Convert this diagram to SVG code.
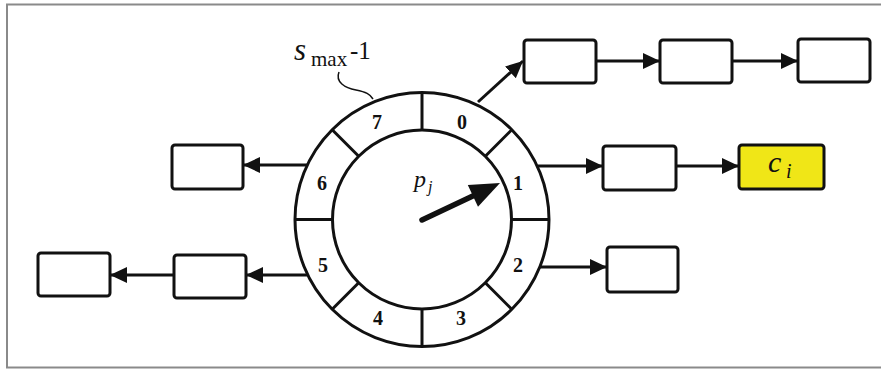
<svg xmlns="http://www.w3.org/2000/svg" width="881" height="371" viewBox="0 0 881 371">
<style>
.box{fill:#fff;stroke:#111;stroke-width:3}
.ring{fill:none;stroke:#111;stroke-width:3}
.conn{stroke:#111;stroke-width:3;fill:none}
.num{font-family:"Liberation Serif",serif;font-weight:bold;font-size:20px;fill:#111;text-anchor:middle}
.it{font-family:"Liberation Serif",serif;font-style:italic;fill:#111}
.rm{font-family:"Liberation Serif",serif;fill:#111}
</style>
<defs>
<marker id="ah" markerUnits="userSpaceOnUse" markerWidth="20" markerHeight="18" refX="17" refY="8" orient="auto">
<path d="M0,0 L17,8 L0,16 Z" fill="#111"/>
</marker>
</defs>
<rect x="7" y="4.5" width="880" height="363" fill="#fff" stroke="#8a8a8a" stroke-width="2"/>

<g id="wheel">
<circle class="ring" cx="422" cy="219.5" r="127"/>
<circle class="ring" cx="422" cy="219.5" r="89.5"/>
<g class="conn">
<line x1="422" y1="92.5" x2="422" y2="130"/>
<line x1="422" y1="309" x2="422" y2="346.5"/>
<line x1="295" y1="219.5" x2="332.5" y2="219.5"/>
<line x1="511.5" y1="219.5" x2="549" y2="219.5"/>
<line x1="485.3" y1="156.2" x2="511.8" y2="129.7"/>
<line x1="358.7" y1="156.2" x2="332.2" y2="129.7"/>
<line x1="485.3" y1="282.8" x2="511.8" y2="309.3"/>
<line x1="358.7" y1="282.8" x2="332.2" y2="309.3"/>
</g>
<text class="num" x="462" y="129">0</text>
<text class="num" x="518" y="190">1</text>
<text class="num" x="518" y="272">2</text>
<text class="num" x="461" y="325">3</text>
<text class="num" x="378" y="325">4</text>
<text class="num" x="323" y="272">5</text>
<text class="num" x="322" y="190">6</text>
<text class="num" x="377" y="129">7</text>
<line x1="422" y1="220" x2="476" y2="194.5" stroke="#111" stroke-width="5.5" stroke-linecap="round"/>
<polygon points="500,183 478,206.7 467.8,185.1" fill="#111"/>
<text class="it" x="414" y="187" font-size="24">p</text>
<text class="it" x="428" y="192" font-size="16">j</text>
</g>

<g id="smax-label">
<text class="it" x="294" y="60" font-size="31">s</text>
<text class="rm" x="311" y="66" font-size="21">max</text>
<text class="rm" x="350" y="59" font-size="25">-1</text>
<path d="M339,72 C335,82 345,88 356,90 C366,92 370,94 373,99" fill="none" stroke="#111" stroke-width="1.5"/>
</g>

<g id="n0a"><rect class="box" x="524" y="40" width="72" height="43" rx="3"/></g>
<g id="n0b"><rect class="box" x="660" y="40" width="72" height="43" rx="3"/></g>
<g id="n0c"><rect class="box" x="798" y="39" width="72" height="43" rx="3"/></g>
<g id="n1a"><rect class="box" x="603" y="146" width="73" height="44" rx="3"/></g>
<g id="n1b"><rect x="739" y="145" width="85" height="44" rx="3" fill="#f0e617" stroke="#111" stroke-width="3"/>
<text class="it" x="768" y="172" font-size="30">c</text>
<text class="it" x="786" y="178" font-size="20">i</text></g>
<g id="n2a"><rect class="box" x="607" y="247" width="71" height="45" rx="3"/></g>
<g id="n6a"><rect class="box" x="172" y="145" width="71" height="44" rx="3"/></g>
<g id="n5a"><rect class="box" x="174" y="255" width="72" height="43" rx="3"/></g>
<g id="n5b"><rect class="box" x="38" y="253" width="72" height="43" rx="3"/></g>

<g id="connectors" class="conn">
<line x1="478" y1="102" x2="523" y2="61" marker-end="url(#ah)"/>
<line x1="596" y1="61" x2="660" y2="61" marker-end="url(#ah)"/>
<line x1="732" y1="61" x2="798" y2="61" marker-end="url(#ah)"/>
<line x1="538" y1="166" x2="603" y2="166" marker-end="url(#ah)"/>
<line x1="676" y1="166" x2="739" y2="166" marker-end="url(#ah)"/>
<line x1="540" y1="267" x2="607" y2="267" marker-end="url(#ah)"/>
<line x1="307" y1="165" x2="243" y2="165" marker-end="url(#ah)"/>
<line x1="307" y1="275" x2="246" y2="275" marker-end="url(#ah)"/>
<line x1="174" y1="275" x2="110" y2="275" marker-end="url(#ah)"/>
</g>
</svg>
